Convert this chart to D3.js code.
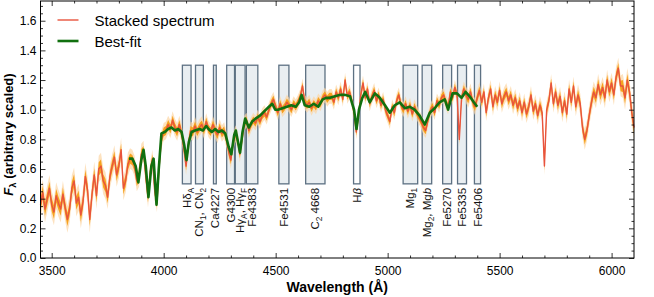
<!DOCTYPE html>
<html>
<head>
<meta charset="utf-8">
<script src="https://cdn.jsdelivr.net/npm/d3@7"></script>
<style>
body{margin:0;background:#fff}
svg{display:block;font-family:"Liberation Sans",Arial,Helvetica,sans-serif}
</style>
</head>
<body>
<div id="chart-area"></div>
<script>
// stacked spectrum, sampled every 10 A from 3450 A
const fluxStart = 3450
const fluxStep = 10
const flux = [
	0.36,0.44,0.33,0.40,0.47,0.36,0.31,0.42,0.37,0.33,
	0.43,0.34,0.26,0.33,0.47,0.52,0.37,0.41,0.29,0.38,
	0.55,0.46,0.26,0.43,0.56,0.42,0.60,0.62,0.52,0.49,
	0.41,0.55,0.62,0.68,0.56,0.62,0.73,0.47,0.52,0.63,
	0.67,0.66,0.62,0.52,0.55,0.70,0.72,0.55,0.41,0.58,
	0.67,0.45,0.37,0.62,0.80,0.85,0.86,0.90,0.87,0.93,
	0.88,0.85,0.90,0.84,0.74,0.62,0.76,0.86,0.85,0.89,
	0.85,0.88,0.90,0.86,0.92,0.87,0.85,0.90,0.86,0.83,
	0.88,0.84,0.86,0.80,0.72,0.66,0.78,0.84,0.80,0.70,
	0.80,0.91,0.93,0.86,0.90,0.93,0.91,0.95,0.92,0.96,
	0.98,0.95,1.00,1.04,1.07,1.02,0.98,1.04,1.00,1.02,
	1.05,1.03,1.00,1.04,1.02,1.05,1.09,1.16,1.05,1.03,
	1.05,1.01,1.04,1.02,1.06,1.04,1.08,1.10,1.07,1.09,
	1.09,1.05,1.12,1.08,1.14,1.07,1.20,1.09,1.12,1.06,
	0.98,0.85,0.96,1.10,1.18,1.08,1.14,1.04,1.09,1.13,
	1.06,1.10,1.03,1.07,1.00,0.96,0.92,1.02,0.98,1.06,
	1.10,1.03,1.00,1.04,0.99,1.03,0.97,1.02,0.98,0.95,
	0.92,0.88,0.86,0.93,0.99,1.02,0.98,1.06,1.03,1.08,
	1.10,1.05,1.02,1.12,1.08,1.15,1.10,0.80,1.08,1.14,
	1.10,1.07,1.12,1.05,1.02,1.08,1.13,1.05,1.12,0.98,
	1.08,1.14,1.02,1.10,1.05,1.13,1.04,1.09,1.12,1.06,
	1.10,1.03,1.08,1.01,1.06,0.98,1.05,0.97,1.02,1.10,
	0.99,1.04,0.96,1.03,0.98,0.62,1.00,1.06,1.18,1.04,
	1.12,1.03,1.09,0.98,1.06,0.97,1.14,1.05,1.16,1.02,
	1.10,1.04,0.88,0.80,0.86,0.96,1.05,1.12,1.08,1.17,
	1.10,1.15,1.08,1.20,1.12,1.18,1.10,1.22,1.28,1.16,
	1.16,1.08,1.20,1.12,0.98,0.88
]
// uncertainty for each 100 A block
const fluxErr = [0.045,0.045,0.045,0.04,0.035,0.03,0.03,0.028,0.028,0.025,0.025,0.025,0.025,0.025,
	0.025,0.025,0.025,0.025,0.025,0.028,0.03,0.03,0.03,0.032,0.035,0.035,0.04]

// best-fit model
const fitWave = [3845,3860,3875,3887,3900,3910,3920,3932,3945,3955,3962,3968,3978,3990,4005,4020,4035,4050,
	4065,4080,4092,4102,4112,4125,4140,4160,4175,4190,4200,4215,4230,4245,4260,4275,4290,4302,4315,4322,
	4332,4341,4352,4364,4380,4395,4410,4430,4450,4470,4485,4498,4510,4530,4550,4570,4590,4605,4616,4630,
	4650,4670,4690,4710,4725,4743,4765,4787,4810,4832,4850,4861,4872,4887,4900,4920,4943,4965,4988,5010,
	5032,5054,5077,5099,5120,5143,5166,5188,5210,5232,5255,5270,5290,5310,5330,5348,5366,5385,5400]
const fitFlux = [0.67,0.67,0.62,0.51,0.66,0.73,0.62,0.41,0.62,0.67,0.50,0.36,0.60,0.84,0.85,0.87,0.88,0.86,
	0.87,0.85,0.76,0.66,0.78,0.85,0.86,0.87,0.86,0.89,0.87,0.85,0.87,0.85,0.86,0.84,0.75,0.70,0.83,0.86,
	0.78,0.71,0.85,0.94,0.88,0.92,0.94,0.96,0.99,1.02,1.04,1.00,1.00,1.01,1.02,1.03,1.02,1.05,1.10,1.03,
	1.02,1.04,1.02,1.07,1.08,1.08,1.09,1.10,1.10,1.09,1.00,0.87,1.00,1.08,1.12,1.05,1.11,1.08,1.03,0.98,
	1.03,1.05,1.01,1.02,1.00,0.96,0.90,0.98,1.01,1.05,1.07,1.00,1.11,1.11,1.08,1.12,1.09,1.05,1.02]

// Lick index passbands
const bandLabels = ["Hδ_A","CN_1, CN_2","Ca4227","G4300","Hγ_A, Hγ_F","Fe4383","Fe4531","C_2 4668","H*β*",
	"Mg_1","Mg_2, Mg*b*","Fe5270","Fe5335","Fe5406"]
const bandStart = [4083.5,4142.125,4222.25,4281.375,4319.75,4369.125,4514.25,4634.0,4847.875,
	5069.125,5154.125,5245.65,5312.125,5387.5]
const bandEnd = [4122.25,4177.125,4234.75,4316.375,4363.5,4420.375,4559.25,4720.25,4876.625,
	5134.125,5196.625,5285.65,5352.125,5415.0]
const bandLow = 0.5
const bandHigh = 1.3

const xTicks = [3500,4000,4500,5000,5500,6000]
const yTicks = [0,0.2,0.4,0.6,0.8,1.0,1.2,1.4,1.6]
const legendLabels = ["Stacked spectrum","Best-fit"]

const MARGIN = {LEFT:40.5,RIGHT:20,TOP:1,BOTTOM:39}
const WIDTH = 654 - MARGIN.LEFT - MARGIN.RIGHT
const HEIGHT = 297 - MARGIN.TOP - MARGIN.BOTTOM

const svg = d3.select("#chart-area").append("svg")
	.attr("width",WIDTH+MARGIN.LEFT+MARGIN.RIGHT)
	.attr("height",HEIGHT+MARGIN.TOP+MARGIN.BOTTOM)

const g = svg.append("g")
	.attr("transform",`translate(${MARGIN.LEFT},${MARGIN.TOP})`)

const x = d3.scaleLinear()
	.domain([3450,6100])
	.range([0,WIDTH])

const y = d3.scaleLinear()
	.domain([0,1.733])
	.range([HEIGHT,0])

// small markup: _X subscript, *txt* italic
function richText(sel,str){
	const parts = str.match(/_.|\*[^*]+\*|[^_*]+/g)
	let down = false
	parts.forEach(p=>{
		const t = sel.append("tspan")
		if(p[0]==="_"){
			t.text(p.slice(1)).attr("font-size","0.72em").attr("dy",down?0:3)
			down = true
		} else {
			t.text(p[0]==="*" ? p.slice(1,-1) : p)
			if(p[0]==="*") t.attr("font-style","italic")
			if(down){ t.attr("dy",-3); down = false }
		}
	})
}

// index boxes
bandLabels.forEach((label,i)=>{
	const x0 = x(bandStart[i]), x1 = x(bandEnd[i])
	g.append("rect")
		.attr("x",x0)
		.attr("y",y(bandHigh))
		.attr("width",x1-x0)
		.attr("height",y(bandLow)-y(bandHigh))
		.attr("fill",label==="H*β*" ? "#ffffff" : "#e9eef1")
		.attr("stroke","#5d7183")
		.attr("stroke-width",1.3)

	const txt = g.append("text")
		.attr("transform",`translate(${(x0+x1)/2},${y(bandLow)+4}) rotate(-90)`)
		.attr("text-anchor","end")
		.attr("dy","0.35em")
		.attr("font-size","11.5px")
		.attr("fill","#111")
	richText(txt,label)
})

// spectrum
const spec = flux.map((f,i)=>({w:fluxStart+i*fluxStep, f:f, e:fluxErr[Math.floor(i/10)]}))

const outerBand = d3.area()
	.x(d=>x(d.w))
	.y0(d=>y(d.f-2*d.e))
	.y1(d=>y(d.f+2*d.e))

const innerBand = d3.area()
	.x(d=>x(d.w))
	.y0(d=>y(d.f-d.e))
	.y1(d=>y(d.f+d.e))

const specLine = d3.line()
	.x(d=>x(d.w))
	.y(d=>y(d.f))

g.append("path")
	.datum(spec)
	.attr("d",outerBand)
	.attr("fill","#fcd6a4")
	.attr("opacity",0.7)

g.append("path")
	.datum(spec)
	.attr("d",innerBand)
	.attr("fill","#f6a21e")

g.append("path")
	.datum(spec)
	.attr("d",specLine)
	.attr("fill","none")
	.attr("stroke","#e8533d")
	.attr("stroke-width",1.4)
	.attr("stroke-linejoin","round")

const fitLine = d3.line()
	.x((d,i)=>x(fitWave[i]))
	.y(d=>y(d))

g.append("path")
	.datum(fitFlux)
	.attr("d",fitLine)
	.attr("fill","none")
	.attr("stroke","#11700f")
	.attr("stroke-width",2.6)
	.attr("stroke-linejoin","round")

// axes, ticks pointing inward
const minorX = d3.range(3500,6100,100).filter(v=>v%500!==0)
const minorY = d3.range(0.05,1.73,0.05).filter(v=>Math.round(v*100)%20!==0)

function styleAxis(sel){
	sel.select(".domain").remove()
	sel.selectAll("line").attr("stroke","#000").attr("stroke-width",0.8)
	sel.selectAll("text").attr("font-size","12px").attr("fill","#000").attr("font-family",null)
}

g.append("g").attr("transform",`translate(0,${HEIGHT})`)
	.call(d3.axisBottom(x).tickValues(xTicks).tickSize(-5).tickPadding(8).tickFormat(d3.format("d")))
	.call(styleAxis)
g.append("g").attr("transform",`translate(0,${HEIGHT})`)
	.call(d3.axisBottom(x).tickValues(minorX).tickSize(-2.5).tickFormat(""))
	.call(styleAxis)
g.append("g")
	.call(d3.axisTop(x).tickValues(xTicks).tickSize(-5).tickFormat(""))
	.call(styleAxis)
g.append("g")
	.call(d3.axisTop(x).tickValues(minorX).tickSize(-2.5).tickFormat(""))
	.call(styleAxis)

g.append("g")
	.call(d3.axisLeft(y).tickValues(yTicks).tickSize(-5).tickPadding(4).tickFormat(d3.format(".1f")))
	.call(styleAxis)
g.append("g")
	.call(d3.axisLeft(y).tickValues(minorY).tickSize(-2.5).tickFormat(""))
	.call(styleAxis)
g.append("g").attr("transform",`translate(${WIDTH},0)`)
	.call(d3.axisRight(y).tickValues(yTicks).tickSize(-5).tickFormat(""))
	.call(styleAxis)
g.append("g").attr("transform",`translate(${WIDTH},0)`)
	.call(d3.axisRight(y).tickValues(minorY).tickSize(-2.5).tickFormat(""))
	.call(styleAxis)

g.append("rect")
	.attr("width",WIDTH)
	.attr("height",HEIGHT)
	.attr("fill","none")
	.attr("stroke","#000")
	.attr("stroke-width",1)

// axis labels
g.append("text")
	.attr("x",WIDTH/2)
	.attr("y",HEIGHT+34)
	.attr("text-anchor","middle")
	.attr("font-size","14px")
	.attr("font-weight","bold")
	.text("Wavelength (Å)")

const yLabel = g.append("text")
	.attr("transform",`translate(-28,${HEIGHT/2+5}) rotate(-90)`)
	.attr("text-anchor","middle")
	.attr("font-size","13px")
	.attr("font-weight","bold")
richText(yLabel,"*F*_λ (arbitrary scaled)")

// legend
const legendColors = ["#e8533d","#11700f"]
const legendWidths = [1.4,2.6]
legendLabels.forEach((label,i)=>{
	const row = g.append("g")
		.attr("transform",`translate(17,${19+i*21})`)
	row.append("line")
		.attr("x1",0).attr("x2",21)
		.attr("stroke",legendColors[i])
		.attr("stroke-width",legendWidths[i])
	row.append("text")
		.attr("x",37)
		.attr("y",5.5)
		.attr("font-size","15px")
		.text(label)
})
</script>
</body>
</html>
